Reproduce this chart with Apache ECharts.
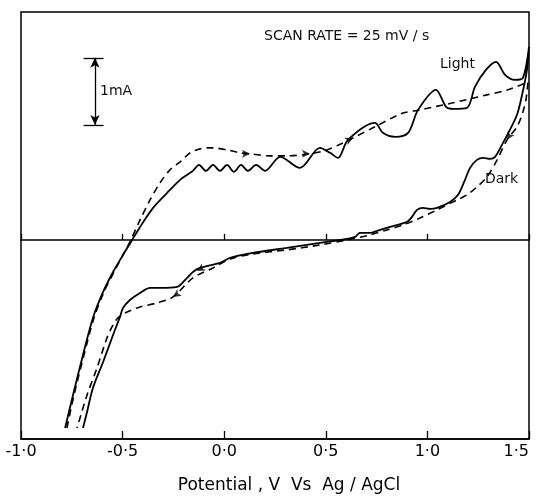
<!DOCTYPE html>
<html>
<head>
<meta charset="utf-8">
<script src="https://cdn.jsdelivr.net/npm/echarts@6/dist/echarts.min.js"></script>
<style>
html,body{margin:0;padding:0;background:#fff;}
#chart{width:538px;height:501px;}
</style>
</head>
<body>
<div id="chart"></div>
<script>
// potential (V vs Ag/AgCl) / current (mA)
// solid loop: forward sweep up to 1.5 V, then back down
var solidV = [-0.783,-0.744,-0.695,-0.646,-0.596,-0.547,-0.498,-0.459,-0.414,-0.350,-0.281,-0.217,-0.168,
    -0.154,-0.124,-0.090,-0.055,-0.021,0.014,0.048,0.083,0.117,0.157,0.201,0.275,
    0.373,0.471,0.521,0.560,0.609,0.742,0.781,0.841,0.905,0.954,1.042,1.092,1.126,1.195,1.234,1.288,1.338,1.382,1.431,1.470,1.500,
    1.490,1.466,1.441,1.406,1.372,1.333,1.308,1.274,1.244,1.210,1.185,1.151,1.111,1.047,1.013,0.978,0.949,0.924,0.900,
    0.816,0.752,0.718,0.668,0.644,0.604,0.471,0.309,0.142,0.029,-0.021,-0.119,-0.154,-0.183,-0.232,-0.316,-0.365,
    -0.414,-0.464,-0.498,-0.513,-0.547,-0.596,-0.646,-0.675,-0.695];
var solidI = [-2.806,-2.313,-1.716,-1.164,-0.776,-0.478,-0.224,-0.030,0.194,0.478,0.701,0.896,1.000,
    1.030,1.119,1.030,1.119,1.030,1.119,1.015,1.119,1.030,1.119,1.030,1.239,
    1.075,1.373,1.299,1.224,1.493,1.746,1.597,1.537,1.597,1.940,2.239,1.985,1.955,1.970,2.284,2.537,2.657,2.463,2.388,2.418,2.881,
    2.537,2.164,1.866,1.642,1.448,1.239,1.209,1.224,1.194,1.075,0.896,0.672,0.567,0.478,0.463,0.478,0.448,0.343,0.269,
    0.194,0.134,0.104,0.104,0.045,0.015,-0.045,-0.119,-0.194,-0.269,-0.343,-0.418,-0.478,-0.567,-0.701,-0.716,-0.716,
    -0.791,-0.896,-1.015,-1.149,-1.418,-1.821,-2.209,-2.567,-2.806];

// dashed loop
var dashV = [-0.774,-0.739,-0.690,-0.641,-0.592,-0.542,-0.498,-0.464,-0.414,-0.365,-0.316,-0.267,-0.217,-0.168,-0.119,
    -0.085,-0.055,0.014,0.078,0.127,0.225,0.309,0.422,0.506,0.585,0.634,0.742,0.870,0.964,1.126,1.293,1.397,1.495,
    1.485,1.470,1.441,1.392,1.343,1.293,1.244,1.195,1.146,1.047,0.964,0.880,0.801,0.718,0.604,0.471,0.309,0.142,0.029,
    -0.055,-0.154,-0.252,-0.331,-0.414,-0.478,-0.523,-0.547,-0.577,-0.626,-0.675,-0.724];
var dashI = [-2.806,-2.313,-1.716,-1.164,-0.776,-0.478,-0.224,-0.030,0.299,0.597,0.851,1.045,1.164,1.299,1.358,
    1.373,1.373,1.343,1.299,1.284,1.254,1.254,1.284,1.343,1.448,1.522,1.687,1.881,1.940,2.045,2.164,2.239,2.358,
    2.090,1.910,1.687,1.493,1.194,0.940,0.791,0.672,0.597,0.448,0.328,0.224,0.149,0.075,0.000,-0.075,-0.149,-0.209,-0.284,
    -0.418,-0.567,-0.851,-0.940,-1.000,-1.075,-1.164,-1.269,-1.463,-1.910,-2.313,-2.806];

// sweep direction arrowheads sitting on the curves (angle = direction of travel, deg)
var arrowV = [0.127, 0.422, 0.634, 1.392, -0.134, -0.252];
var arrowI = [1.284, 1.284, 1.522, 1.493, -0.463, -0.851];
var arrowDir = [0, 0, 25, 239, 210, 215];

var xTickLabels = ['-1·0','-0·5','0·0','0·5','1·0','1·5'];

// 1 mA scale bar
var scaleBarV = -0.636;
var scaleBarI = [1.716, 2.716];
var scaleCapV = [-0.692, -0.594];

function zip(a, b){
    return a.map(function(v, i){ return [v, b[i]]; });
}

var FONT = 'DejaVu Sans';
var chart = echarts.init(document.getElementById('chart'));

var xCommon = {
    type: 'value',
    min: -1,
    max: 1.5,
    interval: 0.5,
    splitLine: {show: false}
};

var option = {
    animation: false,
    backgroundColor: '#fff',
    grid: {
        left: 21, right: 9, top: 12, bottom: 62,
        show: true,
        borderColor: '#000',
        borderWidth: 1.5,
        outerBoundsMode: 'none'
    },
    xAxis: [
        Object.assign({}, xCommon, {
            position: 'bottom',
            axisLine: {show: true, onZero: false, lineStyle: {color: '#000', width: 1.5}},
            axisTick: {show: true, inside: true, length: 8, lineStyle: {color: '#000', width: 1.3}},
            axisLabel: {
                margin: 5,
                color: '#000',
                fontFamily: FONT,
                fontSize: 16,
                alignMaxLabel: 'right',
                formatter: function(v){ return xTickLabels[Math.round((v + 1) / 0.5)]; }
            },
            name: 'Potential , V  Vs  Ag / AgCl',
            nameLocation: 'middle',
            nameGap: 38,
            nameTextStyle: {color: '#000', fontFamily: FONT, fontSize: 17, padding: [0, 0, 0, 28]}
        }),
        // zero-current line with its small ticks
        Object.assign({}, xCommon, {
            position: 'top',
            axisLine: {show: true, onZero: true, onZeroAxisIndex: 0, lineStyle: {color: '#000', width: 1.5}},
            axisTick: {show: true, inside: false, length: 6, lineStyle: {color: '#000', width: 1.3}},
            axisLabel: {show: false}
        })
    ],
    yAxis: {
        type: 'value',
        min: -2.97,
        max: 3.40,
        axisLine: {show: false, onZero: false},
        axisTick: {show: false},
        axisLabel: {show: false},
        splitLine: {show: false}
    },
    graphic: [
        {type: 'text', left: 264, top: 29, style: {text: 'SCAN RATE = 25 mV / s', font: '14px "DejaVu Sans"', fill: '#111'}},
        {type: 'text', left: 440, top: 57, style: {text: 'Light', font: '14px "DejaVu Sans"', fill: '#111'}},
        {type: 'text', left: 485, top: 172, style: {text: 'Dark', font: '14px "DejaVu Sans"', fill: '#111'}},
        {type: 'text', left: 100, top: 84, style: {text: '1mA', font: '14px "DejaVu Sans"', fill: '#111'}}
    ],
    series: [
        {
            name: 'solid',
            type: 'line',
            data: zip(solidV, solidI),
            symbol: 'none',
            smooth: 0.3,
            silent: true,
            lineStyle: {color: '#000', width: 1.8}
        },
        {
            name: 'dashed',
            type: 'line',
            data: zip(dashV, dashI),
            symbol: 'none',
            smooth: 0.3,
            silent: true,
            lineStyle: {color: '#000', width: 1.6, type: [7, 5]}
        },
        {
            name: 'arrows',
            type: 'scatter',
            silent: true,
            symbol: 'arrow',
            symbolSize: [6, 8],
            itemStyle: {color: '#000'},
            data: arrowV.map(function(v, i){
                return {value: [v, arrowI[i]], symbolRotate: arrowDir[i] - 90};
            })
        },
        {
            name: 'scale',
            type: 'line',
            data: [],
            silent: true,
            markLine: {
                silent: true,
                animation: false,
                label: {show: false},
                lineStyle: {color: '#000', width: 1.3, type: 'solid'},
                symbolSize: [7, 10],
                data: [
                    [{coord: [scaleBarV, scaleBarI[0]], symbol: 'arrow'}, {coord: [scaleBarV, scaleBarI[1]], symbol: 'arrow'}],
                    [{coord: [scaleCapV[0], scaleBarI[0]], symbol: 'none'}, {coord: [scaleCapV[1], scaleBarI[0]], symbol: 'none'}],
                    [{coord: [scaleCapV[0], scaleBarI[1]], symbol: 'none'}, {coord: [scaleCapV[1], scaleBarI[1]], symbol: 'none'}]
                ]
            }
        }
    ]
};

chart.setOption(option);
</script>
</body>
</html>
